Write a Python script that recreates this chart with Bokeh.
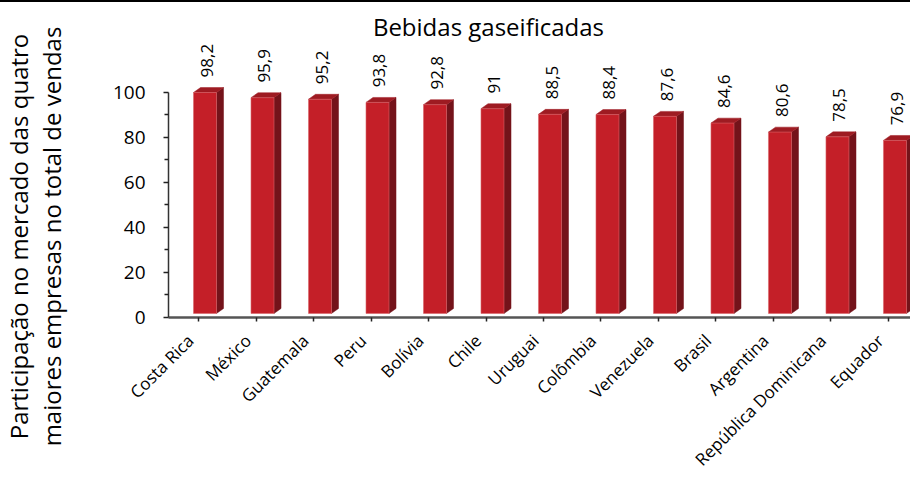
import math
from bokeh.plotting import figure
from bokeh.models import FixedTicker, Range1d, Label, ColumnDataSource, LinearAxis
from bokeh.core.properties import value
from bokeh.embed import file_html
from bokeh.resources import INLINE

countries = ["Costa Rica", "México", "Guatemala", "Peru", "Bolívia", "Chile", "Uruguai",
             "Colômbia", "Venezuela", "Brasil", "Argentina", "República Dominicana", "Equador"]
shares = [98.2, 95.9, 95.2, 93.8, 92.8, 91.0, 88.5, 88.4, 87.6, 84.6, 80.6, 78.5, 76.9]
value_labels = ["98,2", "95,9", "95,2", "93,8", "92,8", "91", "88,5", "88,4", "87,6",
                "84,6", "80,6", "78,5", "76,9"]
y_ticks = [0, 20, 40, 60, 80, 100]
y_minor = [10, 30, 50, 70, 90]
title_text = "Bebidas gaseificadas"
y_title = "Participação no mercado das quatro\nmaiores empresas no total de vendas"

FONT = "Open Sans"

# pseudo-3D geometry (in data units)
off = 0.113      # front face centre offset from the tick
half_w = 0.2     # half width of front face
dx = 0.122       # depth, horizontal
dy = 2.2         # depth, vertical
base = 1.8       # back-plane lift of the bars
label_shift = 0.14  # category labels end slightly left of their tick

X0, X1 = -0.522, 12.383   # extent of the category axis

p = figure(width=910, height=474, output_backend="svg", toolbar_location=None,
           x_range=Range1d(-3.444, X1), y_range=Range1d(-70.67, 140),
           min_border_left=0, min_border_right=0, min_border_top=0,
           min_border_bottom=0)
p.styles = {"border-top": "2px solid #000"}
p.outline_line_color = None
p.xgrid.visible = False
p.ygrid.visible = False
p.background_fill_color = "white"

front_xs, front_ys, top_xs, top_ys, side_xs, side_ys = [], [], [], [], [], []
lab_x, lab_y = [], []
for i, v in enumerate(shares):
    xl = i + off - half_w
    xr = i + off + half_w
    top = v + base
    front_xs.append([xl, xr, xr, xl])
    front_ys.append([base, base, top, top])
    top_xs.append([xl, xr, xr + dx, xl + dx])
    top_ys.append([top, top, top + dy, top + dy])
    side_xs.append([xr, xr + dx, xr + dx, xr])
    side_ys.append([base, base + dy, top + dy, top])
    lab_x.append(i + off + dx * 0.25)
    lab_y.append(top + dy + 4.5)

p.patches(side_xs, side_ys, fill_color="#74131A", line_color="#74131A", line_width=0.5)
p.patches(top_xs, top_ys, fill_color="#9E1B22", line_color="#9E1B22", line_width=0.5)
p.patches(front_xs, front_ys, fill_color="#C41F28", line_color="#D9646A", line_width=0.6)

src = ColumnDataSource(dict(x=lab_x, y=lab_y, t=value_labels))
p.text(x="x", y="y", text="t", source=src, angle=math.pi / 2, text_align="left",
       text_baseline="middle", text_font=value(FONT), text_font_size="17px",
       text_color="#000000")

p.add_layout(Label(x=5.043, y=129.3, text=title_text, text_align="center",
                   text_baseline="middle", text_font=FONT, text_font_size="24px",
                   text_color="#000000"))

# x axis (line + ticks), fixed at y = 0
xa = p.xaxis[0]
xa.fixed_location = 0
xa.bounds = (X0, X1)
xa.ticker = FixedTicker(ticks=list(range(len(countries))), minor_ticks=[])
xa.major_label_text_font_size = "0px"
xa.major_label_text_color = None
xa.axis_line_color = "#555555"
xa.axis_line_width = 2.5
xa.major_tick_in = 0
xa.major_tick_out = 4
xa.major_tick_line_color = "#222222"
xa.major_tick_line_width = 1.5
xa.minor_tick_line_color = None

# category labels (second axis with labels only)
label_pos = [i - label_shift for i in range(len(countries))]
xl_axis = LinearAxis(fixed_location=0, bounds=(X0, X1),
                     ticker=FixedTicker(ticks=label_pos, minor_ticks=[]))
xl_axis.major_label_overrides = {pos: c for pos, c in zip(label_pos, countries)}
xl_axis.major_label_orientation = math.pi / 4
xl_axis.major_label_text_font = FONT
xl_axis.major_label_text_font_size = "17px"
xl_axis.major_label_text_color = "#000000"
xl_axis.major_label_standoff = 16
xl_axis.axis_line_color = None
xl_axis.major_tick_line_color = None
xl_axis.minor_tick_line_color = None
xl_axis.major_tick_out = 4
xl_axis.major_tick_in = 0
p.add_layout(xl_axis, "below")

# y axis (line, ticks, tick labels), fixed at the left end of the category axis
ya = p.yaxis[0]
ya.fixed_location = X0
ya.ticker = FixedTicker(ticks=y_ticks, minor_ticks=y_minor)
ya.bounds = (0, 100)
ya.axis_line_color = "#333333"
ya.axis_line_width = 1.5
ya.major_tick_in = 0
ya.major_tick_out = 5
ya.minor_tick_in = 0
ya.minor_tick_out = 4
ya.major_tick_line_color = "#222222"
ya.minor_tick_line_color = "#222222"
ya.major_tick_line_width = 1.5
ya.minor_tick_line_width = 1.5
ya.major_label_text_font = FONT
ya.major_label_text_font_size = "19px"
ya.major_label_text_color = "#000000"
ya.major_label_standoff = 18

# y-axis title carried by a tick-less axis whose extent centres the title
yt = LinearAxis(fixed_location=X0, bounds=(-28, 100),
                ticker=FixedTicker(ticks=[], minor_ticks=[]))
yt.axis_line_color = None
yt.major_tick_line_color = None
yt.minor_tick_line_color = None
yt.major_tick_out = 0
yt.minor_tick_out = 0
yt.major_label_text_font_size = "0px"
yt.axis_label = y_title
yt.axis_label_text_font = FONT
yt.axis_label_text_font_size = "24px"
yt.axis_label_text_font_style = "normal"
yt.axis_label_text_color = "#000000"
yt.axis_label_text_line_height = 1.0
yt.axis_label_standoff = 101
p.add_layout(yt, "left")

open("out.html", "w").write(file_html(p, INLINE))
